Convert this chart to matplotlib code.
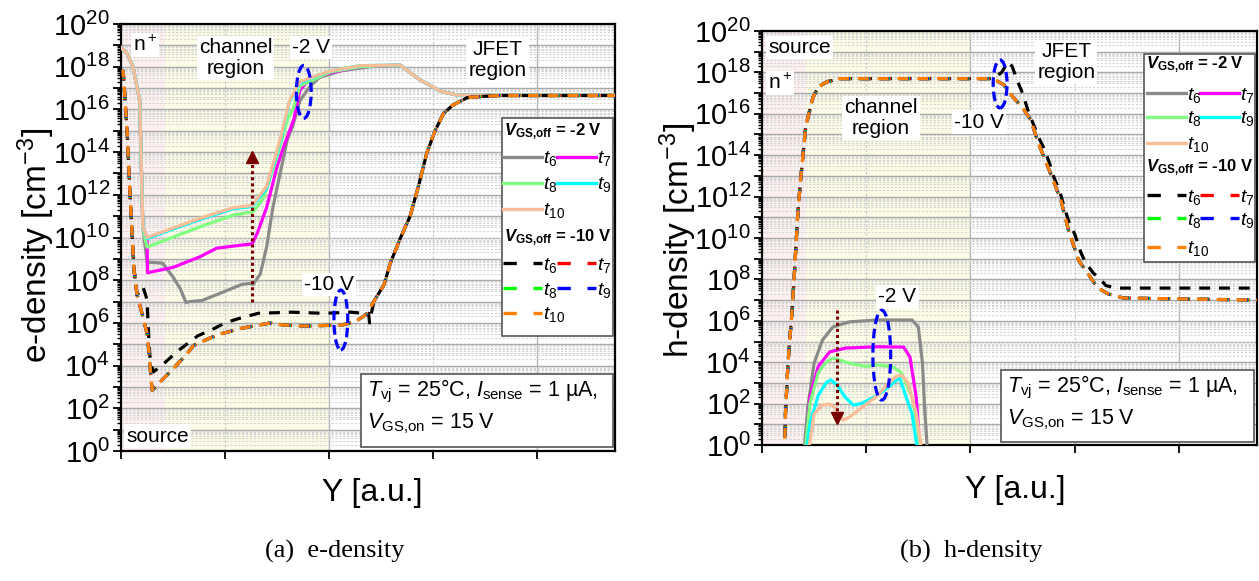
import numpy as np
import matplotlib
matplotlib.use("Agg")
import matplotlib.pyplot as plt
from matplotlib.patches import Ellipse, Rectangle
from matplotlib.lines import Line2D
from matplotlib.ticker import LogLocator, FixedLocator, NullFormatter

plt.rcParams['font.family'] = ['Liberation Sans', 'DejaVu Sans']
plt.rcParams['mathtext.fontset'] = 'custom'
plt.rcParams['mathtext.rm'] = 'Liberation Sans'
plt.rcParams['mathtext.it'] = 'Liberation Sans:italic'
plt.rcParams['mathtext.bf'] = 'Liberation Sans:bold'
plt.rcParams['mathtext.bfit'] = 'Liberation Sans:italic:bold'

W, H = 1259, 581

# ---- e-density (log10 cm^-3) ----
e_start_x = [0.0, 0.06, 0.115, 0.18, 0.21]
e_start = [18.9, 18.6, 18.0, 16.4, 10.5]

e_t6_x = [0.25, 0.40, 0.50, 0.57, 0.625, 0.66, 0.78, 1.01, 1.16, 1.24, 1.27, 1.34, 1.40,
          1.46, 1.53, 1.60, 1.65, 1.72, 1.82, 1.91, 2.11, 2.39]
e_t6 = [8.85, 8.8, 8.15, 7.6, 6.95, 7.0, 7.05, 7.5, 7.8, 7.85, 7.8, 8.3, 9.55,
        11.4, 13.0, 14.6, 15.2, 16.4, 17.1, 17.5, 17.8, 18.0]
e_t7_x = [0.25, 0.255, 0.50, 0.76, 0.92, 1.17, 1.26, 1.31, 1.40, 1.50, 1.56, 1.66, 1.72,
          1.79, 2.0, 2.3]
e_t7 = [10.0, 8.35, 8.6, 9.1, 9.5, 9.65, 9.7, 10.2, 11.4, 13.3, 14.2, 15.5, 16.9,
        17.3, 17.7, 18.0]
e_t8_x = [0.25, 0.76, 1.08, 1.27, 1.37, 1.50, 1.60, 1.66, 1.72, 2.01, 2.30]
e_t8 = [9.55, 10.5, 11.05, 11.2, 11.85, 13.8, 15.5, 16.1, 17.1, 17.75, 18.0]
e_t9_x = [0.25, 0.76, 1.08, 1.26, 1.40, 1.53, 1.62, 1.72, 2.01, 2.30]
e_t9 = [9.95, 10.85, 11.35, 11.45, 12.3, 14.5, 16.35, 17.25, 17.8, 18.05]
e_t10_x = [0.25, 0.76, 1.08, 1.26, 1.40, 1.53, 1.62, 1.72, 2.01, 2.30]
e_t10 = [10.0, 10.9, 11.4, 11.5, 12.4, 14.6, 16.4, 17.3, 17.8, 18.05]
e_tail_x = [2.68, 2.71, 2.875, 3.0, 3.07, 3.23, 4.75]
e_tail = [18.08, 17.99, 17.38, 17.05, 16.86, 16.67, 16.67]

e_d_top_x = [0.02, 0.06, 0.09, 0.125, 0.155]
e_d_top = [17.85, 14.9, 11.7, 8.5, 7.3]
e_d6_x = [0.21, 0.25, 0.265, 0.28, 0.31, 0.39, 0.55, 0.74, 0.87, 1.0, 1.13, 1.32, 1.64,
          1.95, 2.21, 2.33, 2.38, 2.39]
e_d6 = [7.7, 7.1, 5.5, 4.3, 3.7, 4.0, 4.7, 5.4, 5.67, 6.0, 6.2, 6.45, 6.5,
        6.45, 6.5, 6.45, 6.45, 6.0]
e_d10_x = [0.21, 0.25, 0.27, 0.29, 0.30, 0.36, 0.39, 0.51, 0.625, 0.70, 0.86, 0.97, 1.16,
           1.44, 1.56, 1.75, 2.12, 2.25, 2.36]
e_d10 = [6.3, 5.5, 4.6, 3.3, 2.85, 3.1, 3.3, 3.9, 4.5, 4.95, 5.3, 5.5, 5.75,
         6.0, 5.9, 5.85, 5.9, 6.05, 6.4]
e_rise_x = [2.43, 2.53, 2.59, 2.68, 2.78, 2.86, 2.94, 3.02, 3.10, 3.19, 3.33, 3.45, 3.64, 4.75]
e_rise = [7.0, 7.8, 8.8, 9.9, 11.0, 12.4, 13.95, 15.0, 15.8, 16.2, 16.55, 16.6, 16.65, 16.65]

# ---- h-density (log10 cm^-3) ----
h_rise_x = [0.215, 0.225, 0.25, 0.29, 0.31, 0.34, 0.365, 0.395, 0.42, 0.46, 0.49, 0.54,
            0.625, 0.75, 2.22]
h_rise = [-0.5, 1.5, 4.0, 6.6, 8.2, 10.9, 12.5, 14.1, 15.4, 16.2, 16.8, 17.3,
          17.55, 17.7, 17.7]
h_fall_x = [2.32, 2.41, 2.5, 2.58, 2.65, 2.77, 2.87, 2.94, 3.04, 3.125, 3.22, 3.32, 3.47, 4.76]
h_fall = [17.4, 16.8, 16.3, 15.7, 14.6, 13.1, 11.8, 10.4, 8.9, 8.3, 7.6, 7.3, 7.1, 7.0]
h_d6_fall_x = [2.30, 2.36, 2.40, 2.45, 2.50, 2.55, 2.58, 2.66, 2.70, 2.76, 2.80, 2.86, 2.90,
               2.95, 3.0, 3.06, 3.10, 3.18, 3.25, 3.30, 3.40, 4.76]
h_d6_fall = [18.0, 18.5, 18.3, 17.6, 17.0, 16.2, 15.8, 14.8, 14.4, 13.6, 12.95, 12.2, 11.5,
             10.7, 10.2, 9.3, 8.85, 8.3, 8.0, 7.7, 7.58, 7.58]

h_t6_x = [0.40, 0.44, 0.50, 0.58, 0.68, 0.84, 1.11, 1.44, 1.50, 1.54, 1.56, 1.59]
h_t6 = [-0.5, 1.85, 3.95, 5.07, 5.7, 5.95, 6.04, 6.04, 5.7, 3.95, 1.85, -0.5]
h_t7_x = [0.42, 0.46, 0.54, 0.65, 0.80, 1.11, 1.36, 1.42, 1.48, 1.52]
h_t7 = [-0.5, 2.3, 3.8, 4.5, 4.68, 4.75, 4.73, 4.25, 2.3, -0.5]
h_t8_x = [0.41, 0.46, 0.54, 0.615, 0.68, 0.84, 0.99, 1.11, 1.26, 1.34, 1.44, 1.50, 1.52]
h_t8 = [-0.5, 2.0, 3.5, 4.0, 4.2, 3.95, 3.8, 3.87, 3.77, 3.48, 2.3, 0.7, -0.5]
h_t9_x = [0.42, 0.46, 0.54, 0.615, 0.66, 0.72, 0.80, 0.875, 0.95, 1.11, 1.26, 1.32, 1.44, 1.50]
h_t9 = [-0.5, 1.05, 2.4, 3.0, 3.15, 2.9, 2.3, 1.93, 2.0, 2.4, 3.0, 3.24, 1.5, -0.5]
h_t10_x = [0.44, 0.50, 0.58, 0.65, 0.70, 0.78, 0.84, 0.99, 1.11, 1.20, 1.28, 1.34, 1.40,
           1.48, 1.54]
h_t10 = [-0.5, 1.5, 1.93, 1.98, 1.8, 1.2, 1.35, 1.93, 2.4, 2.9, 3.3, 3.38, 3.0, 1.55, -0.5]

times = ["$t_6$", "$t_7$", "$t_8$", "$t_9$", "$t_{10}$"]
solid_colors = ["#8a8a8a", "#ff00ff", "#80ff80", "#00ffff", "#f9bd97"]
dash_colors = ["#000000", "#ff0000", "#00ff00", "#0000ff", "#ff8000"]
arrow_color = "#7a0000"
DASH = (3.4, 2.8)


def cat(*parts):
    xs, ys = [], []
    for px, py in parts:
        xs += list(px)
        ys += list(py)
    return np.array(xs), 10.0 ** np.array(ys)


def fxy(px, py):
    return px / W, 1 - py / H


fig = plt.figure(figsize=(W / 100, H / 100), dpi=100)
axL = fig.add_axes([121 / W, 1 - 451 / H, 494 / W, 427 / H])
axR = fig.add_axes([762 / W, 1 - 445 / H, 495 / W, 414 / H])


def style_axes(ax):
    ax.set_yscale('log')
    ax.set_xlim(0, 4.75)
    ax.set_ylim(1, 1e20)
    ax.axvspan(0, 0.42, color='#fcefef', zorder=0, lw=0)
    ax.axvspan(0.42, 2.0, color='#fcfce6', zorder=0, lw=0)
    ax.yaxis.set_major_locator(FixedLocator([10.0 ** k for k in range(21)]))
    ax.set_yticklabels([f"$10^{{{k}}}$" if k % 2 == 0 else "" for k in range(21)])
    ax.yaxis.set_minor_locator(LogLocator(base=10, subs=range(2, 10), numticks=100))
    ax.yaxis.set_minor_formatter(NullFormatter())
    ax.set_xticks([0, 1, 2, 3, 4])
    ax.set_xticklabels([])
    ax.grid(which='major', axis='y', color='#a8a8a8', lw=1.0, zorder=1)
    ax.grid(which='minor', axis='y', color='#d4d4d4', ls=(0, (2, 1.5)), lw=0.8, zorder=1)
    for xv in (1, 3):
        ax.axvline(xv, color='#cccccc', ls=(0, (2, 1.5)), lw=0.9, zorder=1)
    for xv in (2, 4):
        ax.axvline(xv, color='#b4b4b4', lw=1.0, zorder=1)
    ax.tick_params(which='major', direction='out', length=6, width=1.3, labelsize=21, pad=2)
    ax.tick_params(which='minor', direction='out', length=3, width=1.0)
    for s in ax.spines.values():
        s.set_linewidth(1.6)


def label(ax, x, ly, s):
    ax.text(x, 10.0 ** ly, s, fontsize=15, ha='center', va='center', linespacing=1.15,
            bbox=dict(facecolor='white', edgecolor='none', pad=1.5), zorder=6)


def ellipse(ax, cx, cy, w, h):
    ax.add_patch(Ellipse((cx, cy), w, h, transform=ax.transAxes, fill=False,
                         edgecolor='#0000ff', lw=2.3, ls=(0, (3, 1.5)), zorder=7))


def info_box(x0, y0, x1, y1, l1y, l2y):
    fig.add_artist(Rectangle(fxy(x0, y1), (x1 - x0) / W, (y1 - y0) / H,
                             transform=fig.transFigure, facecolor='white',
                             edgecolor='#555555', lw=1.2, zorder=8))
    fig.text(*fxy(x0 + 6, l1y), r"$T_{\mathrm{vj}}$ = 25°C, $I_{\mathrm{sense}}$ = 1 µA,",
             fontsize=15.5, va='center', ha='left', zorder=9)
    fig.text(*fxy(x0 + 6, l2y), r"$V_{\mathrm{GS{,}on}}$ = 15 V",
             fontsize=15.5, va='center', ha='left', zorder=9)


def key(x0, y0, x1, y1, rows, colA, colB):
    fig.add_artist(Rectangle(fxy(x0, y1), (x1 - x0) / W, (y1 - y0) / H,
                             transform=fig.transFigure, facecolor='white',
                             edgecolor='#555555', lw=1.2, zorder=8))
    groups = [("-2 V", solid_colors, '-'), ("-10 V", dash_colors, (0, (4, 5)))]
    r = 0
    for title, cols, ls in groups:
        fig.text(*fxy(x0 + 2, rows[r]), r"$\mathbfit{V}_{\mathbf{GS{,}off}}$ = " + title,
                 fontsize=12, fontweight='bold', va='center', ha='left', zorder=9)
        r += 1
        for i in range(5):
            ca = (colA, colB)[i % 2]
            yy = rows[r]
            fig.add_artist(Line2D([ca / W, (ca + 39) / W], [1 - yy / H] * 2,
                                  transform=fig.transFigure, color=cols[i], lw=2.4,
                                  ls=ls, zorder=9))
            fig.text(*fxy(ca + 40, yy + 2), times[i], fontsize=14, va='center',
                     ha='left', zorder=9)
            if i % 2 == 1 or i == 4:
                r += 1


style_axes(axL)
style_axes(axR)

# e-density curves: -2 V solid then -10 V dashed
LW = 2.3
solid_e = [(e_t6_x, e_t6), (e_t7_x, e_t7), (e_t8_x, e_t8), (e_t9_x, e_t9), (e_t10_x, e_t10)]
for (sx, sy), c in zip(solid_e, solid_colors):
    x, y = cat((e_start_x, e_start), (sx, sy), (e_tail_x, e_tail))
    axL.plot(x, y, color=c, lw=LW, zorder=3)
dashed_e = [(e_d6_x, e_d6), (e_d10_x, e_d10), (e_d10_x, e_d10), (e_d10_x, e_d10),
            (e_d10_x, e_d10)]
for k, ((sx, sy), c) in enumerate(zip(dashed_e, dash_colors)):
    x, y = cat((e_d_top_x, e_d_top), (sx, sy), (e_rise_x, e_rise))
    axL.plot(x, y, color=c, lw=LW, ls=(k * 0.25, DASH), zorder=4)

# h-density curves
solid_h = [(h_t6_x, h_t6), (h_t7_x, h_t7), (h_t8_x, h_t8), (h_t9_x, h_t9), (h_t10_x, h_t10)]
for (sx, sy), c in zip(solid_h, solid_colors):
    x, y = cat((sx, sy))
    axR.plot(x, y, color=c, lw=LW, zorder=3)
for k, c in enumerate(dash_colors):
    tail = (h_d6_fall_x, h_d6_fall) if k == 0 else (h_fall_x, h_fall)
    x, y = cat((h_rise_x, h_rise), tail)
    axR.plot(x, y, color=c, lw=LW, ls=(k * 0.25, DASH), zorder=4)

# trend arrows
axL.plot([1.26, 1.26], [1e7, 10 ** 13.5], color=arrow_color, lw=2.2, ls=(0, (1, 1)), zorder=5)
axL.plot([1.26], [10 ** 13.75], marker='^', ms=9, color=arrow_color, zorder=5)
axR.plot([0.72, 0.72], [10 ** 6.5, 10 ** 1.6], color=arrow_color, lw=2.2, ls=(0, (1, 1)), zorder=5)
axR.plot([0.72], [10 ** 1.3], marker='v', ms=9, color=arrow_color, zorder=5)

# region labels
label(axL, 0.23, 19.0, "n$^+$")
label(axL, 1.1, 18.4, "channel\nregion")
label(axL, 1.83, 18.9, "-2 V")
label(axL, 3.62, 18.3, "JFET\nregion")
label(axL, 2.0, 7.8, "-10 V")
label(axL, 0.35, 0.7, "source")
label(axR, 0.36, 19.2, "source")
label(axR, 0.17, 17.5, "n$^+$")
label(axR, 1.14, 15.8, "channel\nregion")
label(axR, 2.08, 15.6, "-10 V")
label(axR, 2.92, 18.5, "JFET\nregion")
label(axR, 1.30, 7.15, "-2 V")

ellipse(axL, 0.370, 0.841, 0.030, 0.124)
ellipse(axL, 0.445, 0.307, 0.028, 0.140)
ellipse(axR, 0.481, 0.872, 0.028, 0.116)
ellipse(axR, 0.242, 0.217, 0.036, 0.217)

info_box(361, 374, 613, 447, 391, 424)
info_box(1001, 370, 1254, 442, 387, 420)
key(502, 118, 613, 336, [132, 157, 183, 209, 238, 263, 288, 313], 503, 557)
key(1144, 54, 1255, 262, [65, 93, 117, 143, 168, 195, 218, 247], 1147, 1200)

fig.text(*fxy(36, 245), "e-density [cm$^{-3}$]", rotation=90, fontsize=24,
         ha='center', va='center')
fig.text(*fxy(678, 240), "h-density [cm$^{-3}$]", rotation=90, fontsize=24,
         ha='center', va='center')
fig.text(*fxy(372, 493), "Y [a.u.]", fontsize=23, ha='center', va='center')
fig.text(*fxy(1015, 490), "Y [a.u.]", fontsize=23, ha='center', va='center')
fig.text(*fxy(335, 551), "(a)  e-density", fontsize=19, ha='center', va='center',
         family='Liberation Serif')
fig.text(*fxy(971, 551), "(b)  h-density", fontsize=19, ha='center', va='center',
         family='Liberation Serif')

fig.savefig("out.png", dpi=100)
